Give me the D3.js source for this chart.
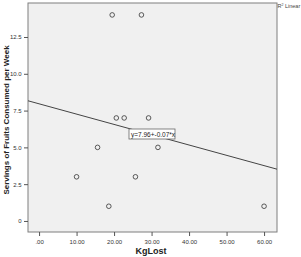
<!DOCTYPE html>
<html>
<head>
<meta charset="utf-8">
<script src="https://cdn.jsdelivr.net/npm/d3@7"></script>
<style>
  body { margin: 0; background: #fff; }
  svg { font-family: "Liberation Sans", Arial, sans-serif; }
</style>
</head>
<body>
<script>
// data
const kgLost = [10.0, 15.6, 18.6, 19.5, 20.6, 22.7, 25.7, 27.3, 29.2, 31.7, 60.0];
const fruits = [3, 5, 1, 14, 7, 7, 3, 14, 7, 5, 1];
const xTicks = [0, 10, 20, 30, 40, 50, 60];
const yTicks = [0, 2.5, 5, 7.5, 10, 12.5];
const fitIntercept = 7.96, fitSlope = -0.07;

const W = 301, H = 257;
const plot = { left: 28, top: 3, right: 277, bottom: 232 };

const svg = d3.select("body").append("svg")
  .attr("width", W)
  .attr("height", H);

const x = d3.scaleLinear().domain([-2.95, 63.45]).range([plot.left, plot.right]);
const y = d3.scaleLinear().domain([-0.75, 14.81]).range([plot.bottom, plot.top]);

svg.append("rect")
  .attr("x", plot.left)
  .attr("y", plot.top)
  .attr("width", plot.right - plot.left)
  .attr("height", plot.bottom - plot.top)
  .attr("fill", "#f0f0f0")
  .attr("stroke", "#7f7f7f")
  .attr("stroke-width", 1);

var xAxis = svg.append("g")
  .attr("transform", `translate(0,${plot.bottom})`)
  .call(d3.axisBottom(x).tickValues(xTicks).tickSize(4)
    .tickFormat(d => d === 0 ? ".00" : d3.format(".2f")(d)));
var yAxis = svg.append("g")
  .attr("transform", `translate(${plot.left},0)`)
  .call(d3.axisLeft(y).tickValues(yTicks).tickSize(4)
    .tickFormat(d => d === 0 ? "0" : d3.format(".1f")(d)));

[xAxis, yAxis].forEach(g => {
  g.select(".domain").remove();
  g.selectAll(".tick line").attr("stroke", "#555");
  g.selectAll(".tick text")
    .attr("fill", "#333")
    .attr("font-size", 6)
    .attr("font-family", "Liberation Sans, Arial, sans-serif");
});
xAxis.selectAll(".tick text").attr("dy", "0.9em");
yAxis.selectAll(".tick text").attr("dx", "0.1em");

// fit line, clipped to plot
svg.append("clipPath").attr("id", "clip")
  .append("rect")
  .attr("x", plot.left).attr("y", plot.top)
  .attr("width", plot.right - plot.left).attr("height", plot.bottom - plot.top);

const xs = x.domain();
svg.append("line")
  .attr("clip-path", "url(#clip)")
  .attr("x1", x(xs[0])).attr("y1", y(fitIntercept + fitSlope * xs[0]))
  .attr("x2", x(xs[1])).attr("y2", y(fitIntercept + fitSlope * xs[1]))
  .attr("stroke", "#444")
  .attr("stroke-width", 1);

svg.append("g").selectAll("circle")
  .data(kgLost)
  .join("circle")
  .attr("cx", d => x(d))
  .attr("cy", (d, i) => y(fruits[i]))
  .attr("r", 2.3)
  .attr("fill", "none")
  .attr("stroke", "#333")
  .attr("stroke-width", 0.8);

// equation label
const lbl = svg.append("g").attr("transform", "translate(129,129)");
lbl.append("rect")
  .attr("width", 46).attr("height", 10)
  .attr("fill", "#fff")
  .attr("stroke", "#666")
  .attr("stroke-width", 0.8);
lbl.append("text")
  .attr("x", 2).attr("y", 7.5)
  .attr("font-size", 6.5)
  .attr("fill", "#222")
  .text("y=7.96+-0.07*x");

// legend
svg.append("text")
  .attr("x", 277.5).attr("y", 8)
  .attr("font-size", 5.5)
  .attr("fill", "#444")
  .html('R<tspan dy="-2" font-size="3.5">2</tspan><tspan dy="2"> Linear</tspan>');

svg.append("text")
  .attr("x", 151).attr("y", 254)
  .attr("text-anchor", "middle")
  .attr("font-size", 9)
  .attr("font-weight", "bold")
  .attr("fill", "#222")
  .text("KgLost");

svg.append("text")
  .attr("transform", "translate(9,120) rotate(-90)")
  .attr("text-anchor", "middle")
  .attr("font-size", 8)
  .attr("font-weight", "bold")
  .attr("fill", "#222")
  .text("Servings of Fruits Consumed per Week");
</script>
</body>
</html>
